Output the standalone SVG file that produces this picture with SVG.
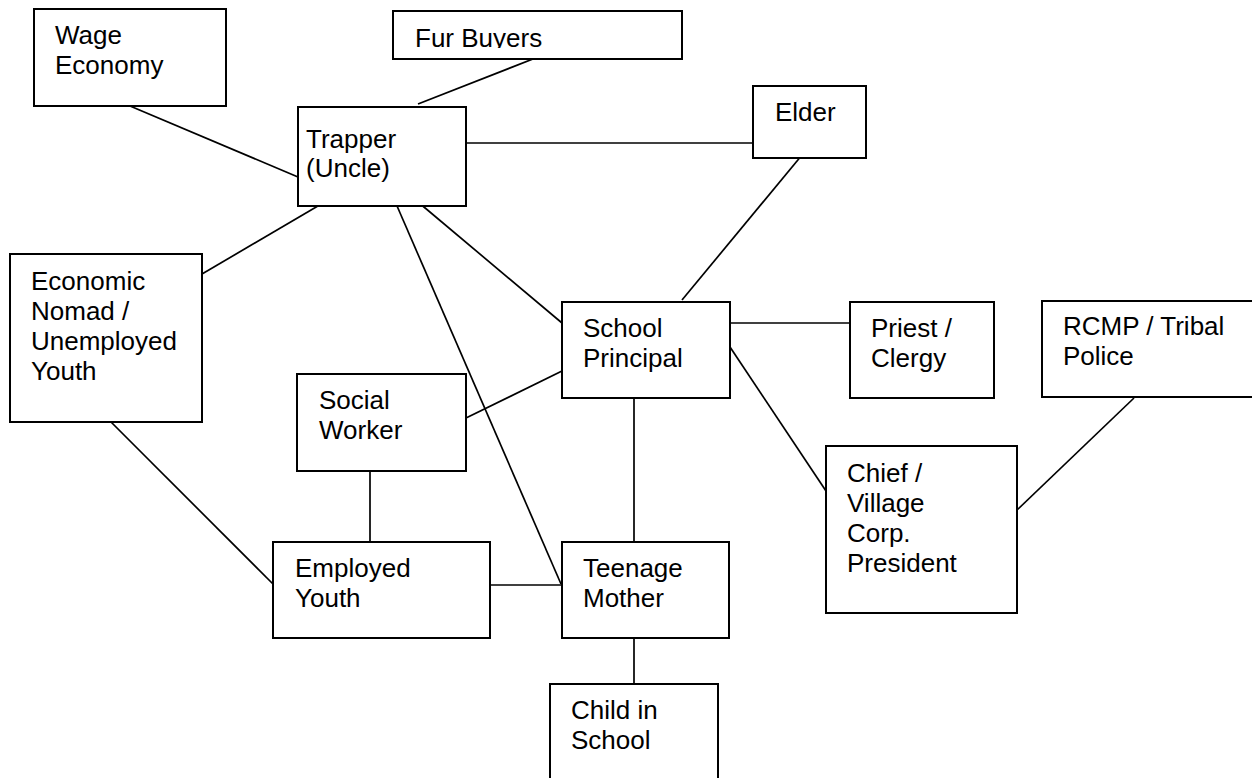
<svg xmlns="http://www.w3.org/2000/svg" width="1252" height="778" viewBox="0 0 1252 778">
<defs>
<style>
.box{fill:#fff;stroke:#000;stroke-width:2}
.ln{stroke:#000;stroke-width:1.7;fill:none}
text{font-family:"Liberation Sans",Arial,sans-serif;font-size:26px;fill:#000}
</style>
<clipPath id="furclip"><rect x="393" y="11" width="289" height="37"/></clipPath>
</defs>
<rect width="1252" height="778" fill="#fff"/>
<g id="connectors">
<line class="ln" x1="130" y1="106" x2="298" y2="177"/>
<line class="ln" x1="418" y1="104" x2="538" y2="57"/>
<line class="ln" x1="466" y1="143" x2="753" y2="143"/>
<line class="ln" x1="802" y1="155" x2="682" y2="300"/>
<line class="ln" x1="323" y1="203" x2="202" y2="274"/>
<line class="ln" x1="394" y1="199" x2="561" y2="584"/>
<line class="ln" x1="418" y1="202" x2="562" y2="323"/>
<line class="ln" x1="466" y1="418" x2="562" y2="371"/>
<line class="ln" x1="370" y1="467" x2="370" y2="541"/>
<line class="ln" x1="634" y1="394" x2="634" y2="541"/>
<line class="ln" x1="490" y1="585" x2="562" y2="585"/>
<line class="ln" x1="106" y1="417" x2="273" y2="584"/>
<line class="ln" x1="634" y1="634" x2="634" y2="684"/>
<line class="ln" x1="730" y1="323" x2="850" y2="323"/>
<line class="ln" x1="730" y1="347" x2="826" y2="491"/>
<line class="ln" x1="1134" y1="398" x2="1017" y2="510"/>
</g>
<g id="wage"><rect class="box" x="34" y="9" width="192" height="97"/><text x="55" y="44">Wage</text><text x="55" y="74">Economy</text></g>
<g id="fur"><rect class="box" x="393" y="11" width="289" height="48"/><text x="415" y="47" clip-path="url(#furclip)">Fur Buyers</text></g>
<g id="trapper"><rect class="box" x="298" y="107" width="168" height="99"/><text x="306" y="148">Trapper</text><text x="306" y="177">(Uncle)</text></g>
<g id="elder"><rect class="box" x="753" y="86" width="113" height="72"/><text x="775" y="121">Elder</text></g>
<g id="nomad"><rect class="box" x="10" y="254" width="192" height="168"/><text x="31" y="290">Economic</text><text x="31" y="320">Nomad /</text><text x="31" y="350">Unemployed</text><text x="31" y="380">Youth</text></g>
<g id="principal"><rect class="box" x="562" y="302" width="168" height="96"/><text x="583" y="337">School</text><text x="583" y="367">Principal</text></g>
<g id="priest"><rect class="box" x="850" y="302" width="144" height="96"/><text x="871" y="337">Priest /</text><text x="871" y="367">Clergy</text></g>
<g id="rcmp"><rect class="box" x="1042" y="301" width="220" height="96"/><text x="1063" y="335">RCMP / Tribal</text><text x="1063" y="365">Police</text></g>
<g id="social"><rect class="box" x="297" y="374" width="169" height="97"/><text x="319" y="409">Social</text><text x="319" y="439">Worker</text></g>
<g id="chief"><rect class="box" x="826" y="446" width="191" height="167"/><text x="847" y="482">Chief /</text><text x="847" y="512">Village</text><text x="847" y="542">Corp.</text><text x="847" y="572">President</text></g>
<g id="employed"><rect class="box" x="273" y="542" width="217" height="96"/><text x="295" y="577">Employed</text><text x="295" y="607">Youth</text></g>
<g id="teenage"><rect class="box" x="562" y="542" width="167" height="96"/><text x="583" y="577">Teenage</text><text x="583" y="607">Mother</text></g>
<g id="child"><rect class="box" x="550" y="684" width="168" height="104"/><text x="571" y="719">Child in</text><text x="571" y="749">School</text></g>
</svg>
